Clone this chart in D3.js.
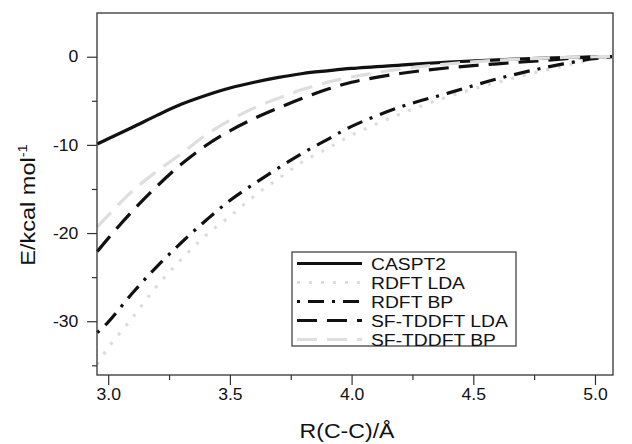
<!DOCTYPE html>
<html>
<head>
<meta charset="utf-8">
<script src="https://cdn.jsdelivr.net/npm/d3@7"></script>
<style>
  body { margin: 0; background: #fff; }
  svg { display: block; font-family: "Liberation Sans", Arial, sans-serif; }
</style>
</head>
<body>
<div id="canvas"></div>
<script>
// distances R(C-C) in Angstrom, shared by all curves
const rValues = [2.955, 3.0, 3.1, 3.2, 3.3, 3.4, 3.5, 3.6, 3.7, 3.8, 3.9, 4.0, 4.2, 4.4, 4.6, 4.8, 5.0, 5.07];

const caspt2    = [-9.9, -9.3, -8.0, -6.65, -5.4, -4.4, -3.55, -2.9, -2.35, -1.9, -1.6, -1.33, -0.95, -0.6, -0.35, -0.15, 0, 0];
const rdftLda   = [-34.9, -33.0, -29.6, -26.0, -23.0, -20.3, -18.1, -15.8, -13.8, -11.9, -10.4, -8.9, -6.5, -4.5, -2.9, -1.5, -0.3, 0];
const rdftBp    = [-31.3, -30.1, -26.8, -23.8, -21.1, -18.6, -16.3, -14.4, -12.6, -10.9, -9.4, -7.9, -5.7, -4.1, -2.5, -1.2, -0.2, 0];
const sfLda     = [-22.1, -20.6, -17.5, -14.7, -12.2, -10.1, -8.4, -7.0, -5.8, -4.7, -3.7, -2.9, -1.9, -1.25, -0.8, -0.4, 0, 0];
const sfBp      = [-19.3, -18.0, -15.2, -13.0, -11.0, -8.9, -7.2, -5.8, -4.7, -3.7, -2.9, -2.3, -1.4, -0.8, -0.4, -0.15, 0, 0.05];

const seriesNames = ["CASPT2", "RDFT LDA", "RDFT BP", "SF-TDDFT LDA", "SF-TDDFT BP"];
const seriesValues = [caspt2, rdftLda, rdftBp, sfLda, sfBp];

const xMajorTicks = [3.0, 3.5, 4.0, 4.5, 5.0];
const xMinorTicks = [3.25, 3.75, 4.25, 4.75];
const yMajorTicks = [0, -10, -20, -30];
const yMinorTicks = [-5, -15, -25, -35];

const styles = [
  { color: "#111", dash: null },
  { color: "#dcdcdc", dash: "3,9" },
  { color: "#111", dash: "3,8,16,8" },
  { color: "#111", dash: "20,10" },
  { color: "#dedede", dash: "20,10" }
];

const width = 632;
const height = 444;
const margin = { top: 13, left: 97, bottom: 69, right: 19 };
const iwidth = width - margin.left - margin.right;
const iheight = height - margin.top - margin.bottom;

const svg = d3.select("#canvas").append("svg")
  .attr("width", width)
  .attr("height", height);

const g = svg.append("g").attr("transform", `translate(${margin.left},${margin.top})`);

const x = d3.scaleLinear()
  .domain([2.954, 5.074])
  .range([0, iwidth]);

const y = d3.scaleLinear()
  .domain([-36.1, 4.96])
  .range([iheight, 0]);

// curves
const line = d3.line()
  .x(d => x(d[0]))
  .y(d => y(d[1]))
  .curve(d3.curveCatmullRom.alpha(0.5));

seriesValues.forEach((vals, i) => {
  g.append("path")
    .datum(rValues.map((r, j) => [r, vals[j]]))
    .attr("fill", "none")
    .attr("stroke", styles[i].color)
    .attr("stroke-width", 3.2)
    .attr("stroke-dasharray", styles[i].dash)
    .attr("d", line);
});

// axes
const xAxis = g.append("g")
  .attr("transform", `translate(0,${iheight})`)
  .call(d3.axisBottom(x).tickValues(xMajorTicks).tickSize(10).tickPadding(4).tickFormat(d3.format(".1f")));
g.append("g")
  .attr("transform", `translate(0,${iheight})`)
  .call(d3.axisBottom(x).tickValues(xMinorTicks).tickSize(5).tickFormat(""));

const yAxis = g.append("g")
  .call(d3.axisLeft(y).tickValues(yMajorTicks).tickSize(10).tickPadding(7).tickFormat(d => String(d)));
g.append("g")
  .call(d3.axisLeft(y).tickValues(yMinorTicks).tickSize(5).tickFormat(""));

g.selectAll(".domain").remove();
g.selectAll(".tick line").attr("stroke", "#333").attr("stroke-width", 1.2);
g.selectAll(".tick text")
  .attr("fill", "#111")
  .style("font-size", "16px")
  .style("font-family", "Liberation Sans, Arial, sans-serif");
xAxis.selectAll(".tick text").attr("transform", "scale(1.1,1)");
yAxis.selectAll(".tick text").attr("transform", "scale(1.1,1)");

// frame
g.append("rect")
  .attr("width", iwidth)
  .attr("height", iheight)
  .attr("fill", "none")
  .attr("stroke", "#333")
  .attr("stroke-width", 1.3);

// axis titles
svg.append("text")
  .attr("transform", `translate(347,438) scale(1.1,1)`)
  .attr("text-anchor", "middle")
  .style("font-size", "21px")
  .attr("fill", "#111")
  .text("R(C-C)/Å");

const ylab = svg.append("text")
  .attr("transform", "translate(35,205) rotate(-90) scale(1.12,1)")
  .attr("text-anchor", "middle")
  .style("font-size", "21px")
  .attr("fill", "#111");
ylab.append("tspan").text("E/kcal mol");
ylab.append("tspan").attr("dy", -8).style("font-size", "13px").text("-1");

// legend
const legend = svg.append("g").attr("transform", "translate(292,252)");
legend.append("rect")
  .attr("width", 224)
  .attr("height", 94)
  .attr("fill", "#fff")
  .attr("stroke", "#333")
  .attr("stroke-width", 1.2);

seriesNames.forEach((name, i) => {
  const ly = 11.5 + i * 19;
  legend.append("line")
    .attr("x1", 5).attr("x2", 70)
    .attr("y1", ly).attr("y2", ly)
    .attr("stroke", styles[i].color)
    .attr("stroke-width", 3)
    .attr("stroke-dasharray", styles[i].dash);
  legend.append("text")
    .attr("transform", `translate(79,${ly + 6}) scale(1.17,1)`)
    .style("font-size", "16.5px")
    .attr("fill", "#111")
    .text(name);
});
</script>
</body>
</html>
